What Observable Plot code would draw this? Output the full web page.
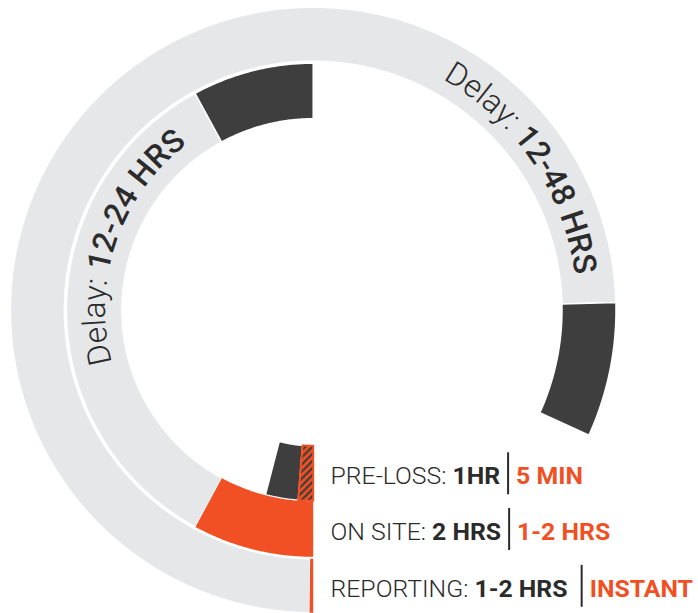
<!DOCTYPE html>
<html><head><meta charset="utf-8">
<script src="https://cdn.jsdelivr.net/npm/d3@7"></script>
<script src="https://cdn.jsdelivr.net/npm/@observablehq/plot@0.6"></script>
<style>body{margin:0;background:#fff;}</style>
</head><body><div id="chart"></div>
<script>
// ---- data (angular spans in degrees, clockwise from 6 o'clock) ----
const stages = ["PRE-LOSS", "ON SITE", "REPORTING"];
const oldLabels = ["1HR", "2 HRS", "1-2 HRS "];
const newLabels = ["5 MIN", "1-2 HRS", "INSTANT"];
const delayLabels = ["", "12-24 HRS", "12-48 HRS"];
const newSpan = [4.5, 28.5, 0.7];
const delaySpan = [0, 122.9, 267.9];
const oldSpan = [10.0, 28.6, 25.8];
const delayLabelAngle = [0, 289, 56];

// ---- layout / style ----
const W = 698, H = 613, CX = 312.7, CY = 309.5;
const ringR = [[135.8, 190.8], [191.3, 246.8], [248.8, 302.8]];
const ORANGE = "#F05023", DARK = "#3E3E3E", GREY = "#E6E7E8", TEXT = "#2B2B2B";
const FS = 24.8, ARC_FS = 32;
const LABEL_X = 17.3, GAP = 8;

// build segments
const segs = [];
stages.forEach((s, i) => {
  let a = 180;
  segs.push({id: `new${i}`, ring: i, kind: i === 0 ? "hatch" : "new", a0: a, a1: a + newSpan[i]}); a += newSpan[i];
  if (delaySpan[i] > 0) { segs.push({id: `delay${i}`, ring: i, kind: "delay", a0: a, a1: a + delaySpan[i]}); a += delaySpan[i]; }
  segs.push({id: `old${i}`, ring: i, kind: "old", a0: a, a1: a + oldSpan[i]});
});
const rad = d => d * Math.PI / 180;
function poly(seg) {
  const [r0, r1] = ringR[seg.ring];
  const n = Math.max(2, Math.ceil((seg.a1 - seg.a0) / 0.5) + 1);
  const pts = [];
  for (let k = 0; k < n; k++) { const t = rad(seg.a0 + (seg.a1 - seg.a0) * k / (n - 1)); pts.push({id: seg.id, kind: seg.kind, x: r1 * Math.sin(t), y: r1 * Math.cos(t)}); }
  for (let k = n - 1; k >= 0; k--) { const t = rad(seg.a0 + (seg.a1 - seg.a0) * k / (n - 1)); pts.push({id: seg.id, kind: seg.kind, x: r0 * Math.sin(t), y: r0 * Math.cos(t)}); }
  return pts;
}
const pts = segs.flatMap(poly);
const ofKind = k => pts.filter(p => p.kind === k);

// label rows
const ctx = document.createElement("canvas").getContext("2d");
const measure = (t, w) => { ctx.font = `${w} ${FS}px Roboto`; return ctx.measureText(t).width; };
const rows = stages.map((s, i) => {
  const mid = (ringR[i][0] + ringR[i][1]) / 2;
  const stageText = s + ": ";
  const xOld = LABEL_X + measure(stageText, 300);
  const xSep = xOld + measure(oldLabels[i], 700) + GAP;
  return {i, y: -mid, stageText, old: oldLabels[i], nw: newLabels[i], x0: LABEL_X, xOld, xSep, xNew: xSep + GAP};
});
const dy = 10.7 - 0.32 * FS;

const chart = Plot.plot({
  width: W, height: H, margin: 0,
  style: {fontFamily: "Roboto, sans-serif", background: "white", overflow: "visible"},
  x: {domain: [-CX, W - CX], range: [0, W], axis: null},
  y: {domain: [-(H - CY), CY], range: [H, 0], axis: null},
  marks: [
    Plot.line(ofKind("delay"), {x: "x", y: "y", z: "id", fill: GREY, stroke: "white", strokeWidth: 1.5, curve: "linear-closed"}),
    Plot.line(ofKind("old"), {x: "x", y: "y", z: "id", fill: DARK, stroke: "white", strokeWidth: 1.5, curve: "linear-closed"}),
    Plot.line(ofKind("new"), {x: "x", y: "y", z: "id", fill: ORANGE, stroke: "none", curve: "linear-closed"}),
    Plot.line(ofKind("hatch"), {x: "x", y: "y", z: "id", fill: "url(#hatch)", stroke: ORANGE, strokeWidth: 2, curve: "linear-closed"}),
    Plot.text(rows, {x: "x0", y: "y", text: "stageText", textAnchor: "start", fontSize: FS, fontWeight: 300, fill: TEXT, dy}),
    Plot.text(rows, {x: "xOld", y: "y", text: "old", textAnchor: "start", fontSize: FS, fontWeight: 700, fill: TEXT, dy}),
    Plot.text(rows, {x: "xNew", y: "y", text: "nw", textAnchor: "start", fontSize: FS, fontWeight: 700, fill: ORANGE, dy}),
    Plot.ruleX(rows, {x: "xSep", y1: d => d.y + 20.5, y2: d => d.y - 21.5, stroke: TEXT, strokeWidth: 2})
  ]
});
document.getElementById("chart").appendChild(chart);

// hatch pattern + curved delay labels
const svg = d3.select(chart);
const sx = chart.scale("x"), sy = chart.scale("y");
const px = sx.apply(0), py = sy.apply(0);
const defs = svg.insert("defs", ":first-child");
const pat = defs.append("pattern").attr("id", "hatch").attr("patternUnits", "userSpaceOnUse")
  .attr("width", 5).attr("height", 5).attr("patternTransform", "rotate(45)");
pat.append("rect").attr("width", 5).attr("height", 5).attr("fill", ORANGE);
pat.append("rect").attr("width", 2.2).attr("height", 5).attr("fill", DARK);

const g = svg.append("g");
stages.forEach((s, i) => {
  if (!delayLabels[i]) return;
  const mid = (ringR[i][0] + ringR[i][1]) / 2;
  const rb = mid - 0.355 * ARC_FS;
  const c = delayLabelAngle[i];
  const pt = a => [px + rb * Math.sin(rad(a)), py - rb * Math.cos(rad(a))];
  const [x0, y0] = pt(c - 90), [x1, y1] = pt(c + 90);
  defs.append("path").attr("id", `arc${i}`).attr("d", `M${x0},${y0}A${rb},${rb} 0 0 1 ${x1},${y1}`);
  const t = g.append("text").attr("font-size", ARC_FS).attr("fill", TEXT).attr("font-family", "Roboto, sans-serif");
  const tp = t.append("textPath").attr("href", `#arc${i}`).attr("startOffset", "50%").attr("text-anchor", "middle");
  tp.append("tspan").attr("font-weight", 300).text("Delay: ");
  tp.append("tspan").attr("font-weight", 500).text(delayLabels[i]);
});
</script>
</body></html>
